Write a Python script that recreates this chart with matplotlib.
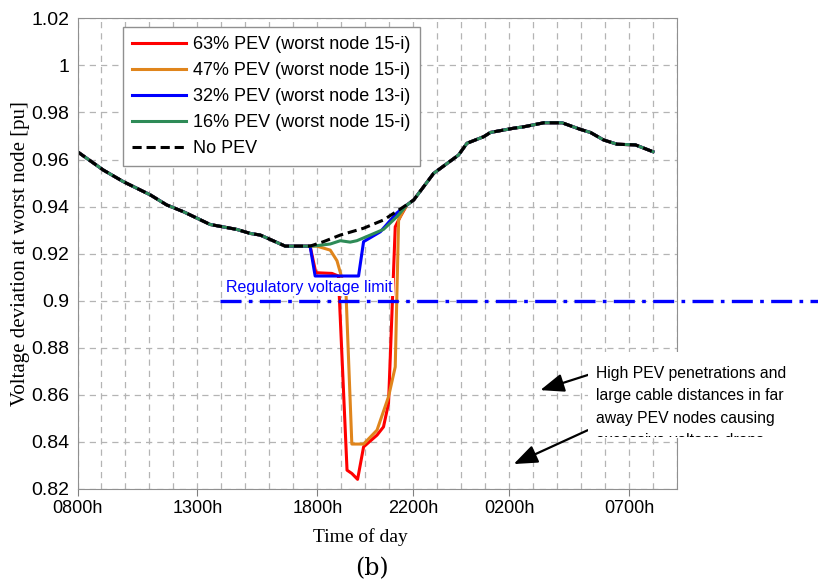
import matplotlib
matplotlib.use("Agg")
import matplotlib.pyplot as plt
from matplotlib.ticker import FixedLocator, FuncFormatter, MultipleLocator
from matplotlib.patches import Rectangle
from matplotlib.transforms import Bbox, TransformedBbox

plt.rcParams["font.family"] = ["Liberation Sans", "DejaVu Sans"]

# hours after 0800h
base_t = [0, 1.08, 1.91, 3.03, 3.72, 4.42, 5.53, 6.64, 7.2, 7.62, 8.0, 8.66, 9.7,
          10.26, 10.96, 11.93, 12.76, 13.6, 14.02, 14.85, 15.89, 16.24, 16.94, 17.22,
          18.19, 18.61, 19.44, 20.21, 20.97, 21.39, 21.94, 22.5, 23.27, 24.0]
base_v = [0.9633, 0.9555, 0.9506, 0.9450, 0.9407, 0.9378, 0.9324, 0.9303, 0.9286, 0.9279,
          0.9262, 0.9232, 0.9232, 0.9251, 0.9279, 0.9308, 0.9343, 0.9399, 0.9428, 0.9541,
          0.9619, 0.9669, 0.9697, 0.9715, 0.9733, 0.9739, 0.9756, 0.9756, 0.9728, 0.9715,
          0.9683, 0.9665, 0.9662, 0.9633]

# evening dip for each penetration level
dip63_t = [9.7, 9.94, 10.61, 10.88, 11.24, 11.44, 11.68, 11.93, 12.49, 12.76, 12.97, 13.25, 13.46, 13.74]
dip63_v = [0.9232, 0.9119, 0.9116, 0.9105, 0.8280, 0.8266, 0.8241, 0.8379, 0.8429, 0.8464,
           0.8564, 0.9314, 0.9357, 0.9407]
dip47_t = [9.7, 9.98, 10.54, 10.82, 10.96, 11.2, 11.44, 11.93, 12.49, 12.97, 13.25, 13.39, 13.6, 13.74]
dip47_v = [0.9232, 0.9232, 0.9215, 0.9170, 0.9120, 0.9025, 0.8391, 0.8391, 0.8450, 0.8592,
           0.8719, 0.9343, 0.9385, 0.9407]
dip32_t = [9.7, 9.91, 11.72, 11.93, 12.63, 13.32, 13.74]
dip32_v = [0.9232, 0.9105, 0.9105, 0.9251, 0.9293, 0.9373, 0.9407]
dip16_t = [9.7, 9.98, 10.54, 10.96, 11.37, 11.65, 12.21, 12.76, 13.32, 13.74]
dip16_v = [0.9232, 0.9234, 0.9241, 0.9255, 0.9249, 0.9255, 0.9279, 0.9303, 0.9357, 0.9407]

labels = ["63% PEV (worst node 15-i)", "47% PEV (worst node 15-i)",
          "32% PEV (worst node 13-i)", "16% PEV (worst node 15-i)", "No PEV"]
colors = ["#ff0000", "#e0851c", "#0000ff", "#2e8b57"]

tick_hours = [0, 5, 10, 14, 18, 23]
tick_labels = ["0800h", "1300h", "1800h", "2200h", "0200h", "0700h"]
limit_v = 0.9
limit_t = [5.95, 31.0]


def with_dip(dt, dv):
    t = [x for x in base_t if x < dt[0]] + dt + [x for x in base_t if x > dt[-1]]
    v = [y for x, y in zip(base_t, base_v) if x < dt[0]] + dv + \
        [y for x, y in zip(base_t, base_v) if x > dt[-1]]
    return t, v


fig = plt.figure(figsize=(8.18, 5.88), dpi=100)
ax = fig.add_axes([77.5 / 818, 1 - 489 / 588, 599.5 / 818, 470.7 / 588])

dips = [(dip63_t, dip63_v), (dip47_t, dip47_v), (dip32_t, dip32_v), (dip16_t, dip16_v)]
for (dt, dv), c, lab in zip(dips, colors, labels):
    t, v = with_dip(dt, dv)
    ax.plot(t, v, color=c, lw=2.2, label=lab)
ax.plot(base_t, base_v, color="k", lw=2.2, ls=(0, (3, 1.6)), label=labels[4])

ax.plot(limit_t, [limit_v, limit_v], color="#0000ff", lw=2.4, ls=(0, (6.3, 2.2, 1.1, 2.2)),
        clip_on=False, zorder=4)
ax.text(6.2, 0.9038, "Regulatory voltage limit", color="#0000ff", fontsize=11.5,
        va="baseline", zorder=5,
        bbox=dict(facecolor="white", edgecolor="none", pad=1.0))

ax.set_xlim(0, 25)
ax.set_ylim(0.82, 1.02)
ax.xaxis.set_major_locator(FixedLocator(tick_hours))
ax.xaxis.set_major_formatter(FuncFormatter(lambda x, p: tick_labels[tick_hours.index(int(round(x)))]))
ax.xaxis.set_minor_locator(MultipleLocator(1))
ax.yaxis.set_major_locator(MultipleLocator(0.02))
ax.yaxis.set_major_formatter(FuncFormatter(lambda y, p: f"{round(y, 2):g}"))
ax.tick_params(axis="x", which="major", length=5, color="#808080", labelsize=13, pad=3)
ax.tick_params(axis="x", which="minor", length=0)
ax.tick_params(axis="y", length=0, labelsize=14, pad=6)
ax.grid(which="both", color="#b4b4b4", lw=0.9, ls=(0, (5, 4)))
for s in ax.spines.values():
    s.set_color("#909090")

leg = ax.legend(loc="upper left", bbox_to_anchor=((123 - 77.5) / 599.5, 1 - (27 - 18.3) / 470.7),
                borderaxespad=0, fontsize=13, frameon=True, fancybox=False, framealpha=1,
                edgecolor="#909090", handlelength=3.0, handletextpad=0.4, labelspacing=0.5,
                borderpad=0.5)
leg.get_frame().set_linewidth(1.0)
leg.set_zorder(6)

ax.set_ylabel("Voltage deviation at worst node [pu]", family="Liberation Serif", fontsize=15)
ax.yaxis.set_label_coords(-0.08, 0.5)
fig.text(360 / 818, 1 - 537 / 588, "Time of day", family="Liberation Serif", fontsize=14,
         ha="center", va="center")
fig.text(372 / 818, 1 - 569 / 588, "(b)", family="DejaVu Serif", fontsize=17,
         ha="center", va="center")

# white box behind the note, with its last line cut off
fig.add_artist(Rectangle((588 / 818, 1 - 438 / 588), 230 / 818, 86 / 588,
                         transform=fig.transFigure, facecolor="white", edgecolor="none",
                         zorder=3))
note = fig.text(596 / 818, 1 - 366 / 588,
                "High PEV penetrations and\nlarge cable distances in far\naway PEV nodes causing\n"
                "excessive voltage drops",
                fontsize=11.3, va="top", ha="left", linespacing=1.62, zorder=4)
note.set_clip_box(TransformedBbox(Bbox.from_extents(0.7, 1 - 437 / 588, 1.0, 0.45), fig.transFigure))
note.set_clip_on(True)

arrow = dict(arrowstyle="-|>,head_length=0.9,head_width=0.35", color="k", lw=1.6,
             shrinkA=0, shrinkB=0, mutation_scale=16)
ax.annotate("", xy=(19.30, 0.8620), xytext=(21.39, 0.8688), arrowprops=arrow,
            annotation_clip=False)
ax.annotate("", xy=(18.19, 0.8306), xytext=(21.28, 0.8450), arrowprops=arrow,
            annotation_clip=False)

fig.savefig("out.png", dpi=100)
